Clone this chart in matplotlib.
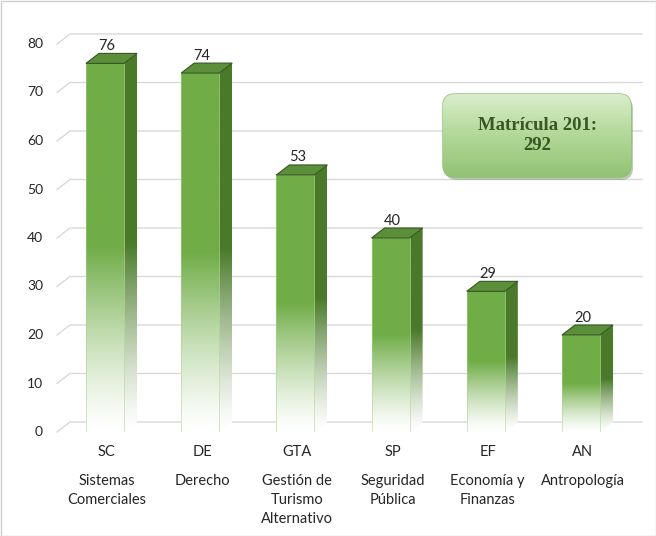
import numpy as np
import matplotlib
matplotlib.use("Agg")
import matplotlib.pyplot as plt
from matplotlib.patches import Polygon, FancyBboxPatch, Rectangle
from matplotlib.colors import to_rgb

# =========================
# Data
# =========================
codes = ["SC", "DE", "GTA", "SP", "EF", "AN"]
names = [
    "Sistemas\nComerciales",
    "Derecho",
    "Gestión de\nTurismo\nAlternativo",
    "Seguridad\nPública",
    "Economía y\nFinanzas",
    "Antropología",
]
values = [76, 74, 53, 40, 29, 20]
y_ticks = [0, 10, 20, 30, 40, 50, 60, 70, 80]
box_text = "Matrícula 201:\n292"

# =========================
# Style
# =========================
FRONT = "#70AD47"
SIDE = "#4A7A2A"
TOP = "#5B8F3A"
EDGE = "#375623"
GRID = "#D9D9D9"
TEXT = "#262626"
FONT = "Lato"

W, H, DPI = 656, 536, 100
PX_X = 95.2          # pixels per category
PX_Y = 4.85          # pixels per unit
DX = 13 / PX_X       # 3D depth offset (data units)
DY = 10 / PX_Y
BAR_W = 0.40


def fade_rgb(color, n=200, start=0.5):
    """Vertical gradient: solid on top, fading into white at the bottom."""
    t = np.linspace(1, 0, n)  # row 0 = top
    k = np.clip(t / start, 0, 1) ** 1.3
    base = np.array(to_rgb(color))
    white = np.ones(3)
    rgb = white + (base - white) * k[:, None]
    return rgb[:, None, :]


fig = plt.figure(figsize=(W / DPI, H / DPI), dpi=DPI)
left_px, right_px, zero_px, top_px = 57, 642, 432, 30
ax = fig.add_axes([
    left_px / W,
    1 - zero_px / H,
    (right_px - left_px) / W,
    (zero_px - top_px) / H,
])
x0 = (left_px - 105) / PX_X
x1 = (right_px - 105) / PX_X
ylim = (0, (zero_px - top_px) / PX_Y)
ax.axis("off")

# back-wall gridlines with the floor diagonal at the left
for v in y_ticks:
    ax.plot([x0, x0 + DX, x1], [v, v + DY, v + DY], color=GRID, lw=1,
            clip_on=False, zorder=0)
    ax.text(x0 - 14 / PX_X, v, str(v), ha="right", va="center",
            fontsize=10, color=TEXT, family=FONT)

for i, v in enumerate(values):
    xl, xr = i - BAR_W / 2, i + BAR_W / 2

    # side face
    side = Polygon([(xr, 0), (xr + DX, DY), (xr + DX, v + DY), (xr, v)],
                   closed=True, facecolor="none", edgecolor="none")
    ax.add_patch(side)
    im = ax.imshow(fade_rgb(SIDE), extent=(xr, xr + DX, 0, v + DY),
                   aspect="auto", zorder=2, interpolation="bilinear")
    im.set_clip_path(side)

    # front face
    ax.imshow(fade_rgb(FRONT), extent=(xl, xr, 0, v), aspect="auto",
              zorder=3, interpolation="bilinear")
    ax.plot([xl, xl, xr, xr], [0, v, v, 0], color="#A9D18E", lw=0.6,
            alpha=0.6, zorder=3)

    # top face
    ax.add_patch(Polygon([(xl, v), (xl + DX, v + DY), (xr + DX, v + DY), (xr, v)],
                         closed=True, facecolor=TOP, edgecolor=EDGE, lw=0.8,
                         zorder=4))

    ax.text(i + 0.02, v + 3.6, str(v), ha="center", va="center",
            fontsize=10.5, color=TEXT, family=FONT, zorder=5)

    ax.text(i + 0.02, -20 / PX_Y, codes[i], ha="center", va="center",
            fontsize=10.5, color=TEXT, family=FONT)
    ax.text(i + 0.02, -42 / PX_Y, names[i], ha="center", va="top",
            fontsize=10.5, color=TEXT, family=FONT, linespacing=1.45)

ax.set_xlim(x0, x1)
ax.set_ylim(*ylim)

# overlay in pixel coordinates for the text box and the frame
ov = fig.add_axes([0, 0, 1, 1], zorder=10)
ov.axis("off")

ov.add_patch(Rectangle((0.5, 0.5), W - 1, H - 1, fill=False,
                       edgecolor="#D0D0D0", lw=1))

bx, by, bw, bh = 443, 94, 188, 83
shadow = FancyBboxPatch((bx + 2, by + 3), bw, bh,
                        boxstyle="round,pad=0,rounding_size=12",
                        facecolor="#6E8F5A", edgecolor="none", alpha=0.45)
ov.add_patch(shadow)
box = FancyBboxPatch((bx, by), bw, bh,
                     boxstyle="round,pad=0,rounding_size=12",
                     facecolor="none", edgecolor="#8DBB6E", lw=1)
ov.add_patch(box)
g = np.linspace(0, 1, 100)[:, None]
c_top = np.array(to_rgb("#D9EECB"))
c_mid = np.array(to_rgb("#B5DA9C"))
c_bot = np.array(to_rgb("#93C274"))
rows = np.where(g < 0.45,
                c_top + (c_mid - c_top) * (g / 0.45),
                c_mid + (c_bot - c_mid) * ((g - 0.45) / 0.55))
img = ov.imshow(rows[:, None, :], extent=(bx, bx + bw, by + bh, by),
                aspect="auto", interpolation="bilinear", zorder=1)
img.set_clip_path(box)
ov.text(bx + bw / 2, by + bh / 2, box_text, ha="center", va="center",
        fontsize=13.5, fontweight="bold", family="Liberation Serif",
        color="#385723", linespacing=1.25, zorder=2)
ov.set_xlim(0, W)
ov.set_ylim(H, 0)

fig.savefig("out.png", dpi=DPI)
